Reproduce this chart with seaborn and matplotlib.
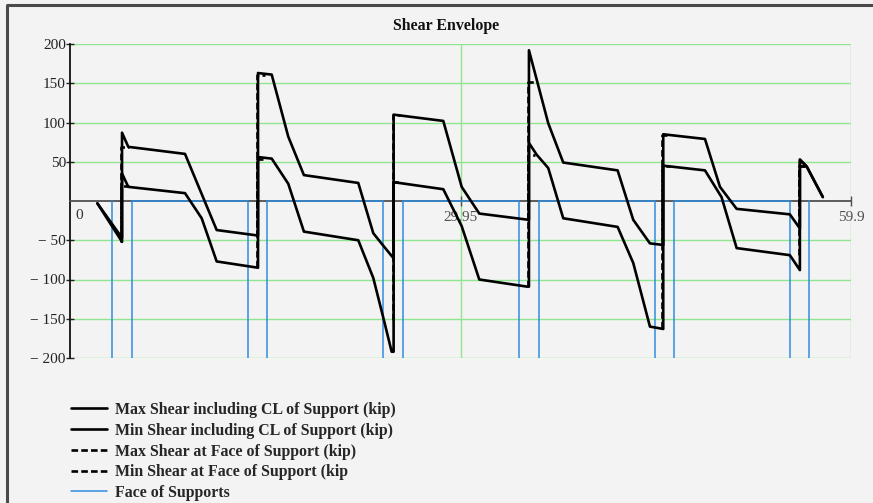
import numpy as np
import pandas as pd
import matplotlib
matplotlib.use("Agg")
import matplotlib.pyplot as plt
from matplotlib.lines import Line2D
import seaborn as sns

# Shear envelope along the beam (x in ft, V in kip)
max_x = [2.1, 3.99, 3.99, 4.47, 8.82, 11.25, 14.42, 14.42, 15.47, 16.74, 17.94, 22.11,
         23.26, 24.08, 24.82, 24.82, 28.63, 30.04, 31.39, 35.2, 35.2, 36.68, 37.83,
         42.0, 43.2, 44.48, 45.5, 45.5, 48.7, 49.85, 51.13, 55.21, 55.98, 55.98, 56.5, 57.74]
max_v = [-3, -47, 87, 69, 60, -37, -44, 163, 161, 82, 33, 23,
         -41, -58, -73, 110, 102, 18, -16, -24, 192, 99, 49,
         39, -24, -54, -56, 85, 79, 18, -10, -17, -35, 53, 44, 5]

min_x = [2.1, 3.99, 3.99, 4.47, 8.82, 10.1, 11.25, 14.42, 14.42, 15.47, 16.74, 17.94,
         22.11, 23.26, 24.08, 24.67, 24.82, 24.82, 28.63, 30.04, 31.39, 35.02, 35.2,
         35.2, 35.79, 36.68, 37.83, 42.0, 43.2, 44.48, 45.5, 45.5, 48.7, 49.97, 51.13,
         55.21, 55.98, 55.98, 56.5, 57.74]
min_v = [-3, -52, 35, 18, 10, -22, -77, -85, 56, 54, 22, -39,
         -50, -98, -152, -192, -192, 24, 15, -32, -100, -109, -109,
         74, 59, 42, -22, -33, -79, -160, -163, 45, 39, 5, -60,
         -69, -88, 52, 44, 5]

# Supports: centre lines and faces
support_cl = [3.99, 14.42, 24.82, 35.2, 45.5, 55.98]
face_left = [3.22, 13.65, 24.0, 34.43, 44.86, 55.21]
face_right = [4.75, 15.11, 25.54, 35.97, 46.32, 56.67]

# Shear at the faces of the supports (left face, right face)
max_face_left = [-47, -44, -58, -24, -55, -18]
max_face_right = [69, 161, 109, 152, 84, 45]
min_face_left = [-52, -84, -152, -109, -162, -69]
min_face_right = [19, 54, 24, 59, 45, 45]

y_ticks = [200, 150, 100, 50, -50, -100, -150, -200]
y_tick_labels = ["200", "150", "100", "50", "\u2212 50", "\u2212 100", "\u2212 150", "\u2212 200"]
x_ticks = [29.95, 59.9]
x_tick_labels = ["29.95", "59.9"]
x_span = (0, 59.9)
y_span = (-200, 200)

legend_labels = ["Max Shear including CL of Support (kip)",
                 "Min Shear including CL of Support (kip)",
                 "Max Shear at Face of Support (kip)",
                 "Min Shear at Face of Support (kip",
                 "Face of Supports"]

sns.set_theme(style="white")
plt.rcParams["font.family"] = ["Liberation Serif", "DejaVu Serif"]

bg = "#f3f3f3"
fig = plt.figure(figsize=(8.73, 5.03), dpi=100, facecolor=bg)
ax = fig.add_axes([70 / 873, 1 - 358 / 503, 781 / 873, 314 / 503])
ax.set_facecolor(bg)


def face_polyline(cl, left, right, dx):
    xs, ys = [], []
    for c, a, b in zip(cl, left, right):
        xs += [c + dx, c + dx, c + 0.5, np.nan]
        ys += [a, b, b, np.nan]
    return pd.DataFrame({"x": xs, "V": ys})


def support_polyline(fl, fr, depth=-1000):
    xs, ys = [], []
    for a, b in zip(fl, fr):
        xs += [a, a, b, b]
        ys += [0, depth, depth, 0]
    return pd.DataFrame({"x": xs, "V": ys})


df_max = pd.DataFrame({"x": max_x, "V": max_v})
df_min = pd.DataFrame({"x": min_x, "V": min_v})
df_max_face = face_polyline(support_cl, max_face_left, max_face_right, -0.07)
df_min_face = face_polyline(support_cl, min_face_left, min_face_right, -0.07)
df_sup = support_polyline(face_left, face_right)

lw = 1.9
dash = (0, (2.5, 1.2))
sns.lineplot(data=df_max, x="x", y="V", sort=False, estimator=None, ax=ax,
             color="black", lw=lw, label=legend_labels[0], zorder=4)
sns.lineplot(data=df_min, x="x", y="V", sort=False, estimator=None, ax=ax,
             color="black", lw=lw, label=legend_labels[1], zorder=4)
ax.plot(df_max_face["x"], df_max_face["V"], color="black", lw=lw, ls=dash,
        label=legend_labels[2], zorder=4)
ax.plot(df_min_face["x"], df_min_face["V"], color="black", lw=lw, ls=dash,
        label=legend_labels[3], zorder=4)
sns.lineplot(data=df_sup, x="x", y="V", sort=False, estimator=None, ax=ax,
             color="#2e8ddf", lw=1.1, label=legend_labels[4], zorder=3)

ax.set_xlim(*x_span)
ax.set_ylim(*y_span)
ax.set_xlabel("")
ax.set_ylabel("")

# green grid
ax.set_yticks(y_ticks)
ax.set_yticklabels(y_tick_labels)
ax.set_xticks(x_ticks)
ax.set_xticklabels(x_tick_labels)
ax.grid(True, color="#8fe68f", lw=1.0)
ax.set_axisbelow(True)

for s in ["top", "right"]:
    ax.spines[s].set_visible(False)
ax.spines["bottom"].set_position(("data", 0))
ax.spines["bottom"].set_color("#505050")
ax.spines["bottom"].set_linewidth(1.3)
ax.spines["left"].set_color("#111111")
ax.spines["left"].set_linewidth(1.3)
ax.tick_params(axis="y", direction="inout", length=6, width=1, color="#222222",
               labelsize=11, labelcolor="#222222", pad=0, left=True)
ax.tick_params(axis="x", direction="inout", length=7, width=1, color="#505050",
               labelsize=11, labelcolor="#505050", pad=4, bottom=True)
for t in ax.get_xticklabels():
    t.set_zorder(6)
ax.annotate("0", xy=(0, 0), xytext=(4, -6), textcoords="offset points",
            ha="left", va="top", fontsize=11, color="#333333")

fig.text(446 / 873, 1 - 26 / 503, "Shear Envelope", ha="center", va="center",
         fontsize=11.4, fontweight="bold", color="#111111")

handles, labels = ax.get_legend_handles_labels()
if ax.get_legend():
    ax.get_legend().remove()
fig.legend(handles, labels, loc="upper left",
           bbox_to_anchor=(71 / 873, 1 - 402 / 503), frameon=False,
           prop={"weight": "bold", "size": 11.4}, handlelength=2.3,
           handletextpad=0.45, labelspacing=0.3, borderpad=0, borderaxespad=0)

# screenshot frame
fig.add_artist(Line2D([7 / 873, 7 / 873, 1.0], [0.0, 1 - 5 / 503, 1 - 5 / 503],
                      transform=fig.transFigure, color="#4a4a4a", lw=2.2))

fig.savefig("out.png", dpi=100, facecolor=bg)
